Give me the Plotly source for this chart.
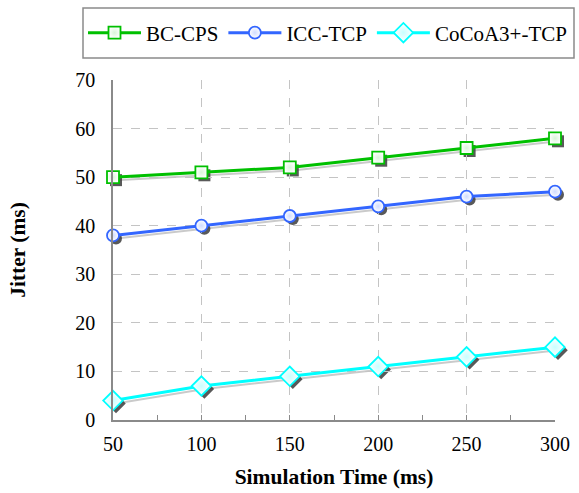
import plotly.graph_objects as go

time_ms = [50, 100, 150, 200, 250, 300]
bc_cps = [50, 51, 52, 54, 56, 58]
icc_tcp = [38, 40, 42, 44, 46, 47]
cocoa = [4, 7, 9, 11, 13, 15]

series = [
    ("BC-CPS", bc_cps, "#00C000", "square", 12, "#d8f5d8"),
    ("ICC-TCP", icc_tcp, "#3366FF", "circle", 12, "#d0dcff"),
    ("CoCoA3+-TCP", cocoa, "#00FFFF", "diamond", 15, "#c8ffff"),
]

FONT = "Liberation Serif"
W, H = 579, 493
ml, mr, mt, mb = 113, 21, 80, 70
pw = W - ml - mr
ph = H - mt - mb
dx = 3.0 / pw
dy = 3.0 / ph

fig = go.Figure()

# shadow traces (subplot xy, offset right/down)
for name, vals, col, sym, sz, grad in series:
    fig.add_trace(go.Scatter(
        x=time_ms, y=vals, mode="lines+markers", showlegend=False, hoverinfo="skip",
        line=dict(color="rgba(80,80,80,0.3)", width=2),
        marker=dict(symbol=sym, size=sz, color="rgba(60,60,60,0.85)",
                    line=dict(width=0)),
        cliponaxis=False, xaxis="x", yaxis="y"))

# main traces
for name, vals, col, sym, sz, grad in series:
    fig.add_trace(go.Scatter(
        x=time_ms, y=vals, mode="lines+markers", name=name,
        line=dict(color=col, width=3),
        marker=dict(symbol=sym, size=sz, color="white",
                    gradient=dict(type="radial", color=grad),
                    line=dict(color=col, width=1.8)),
        cliponaxis=False, xaxis="x2", yaxis="y2"))

axcol = "#8a8a8a"
gridcol = "#C4C4C4"

fig.update_layout(
    width=W, height=H,
    margin=dict(l=ml, r=mr, t=mt, b=mb, autoexpand=False),
    paper_bgcolor="white", plot_bgcolor="rgba(0,0,0,0)",
    font=dict(family=FONT, size=20, color="black"),
    xaxis=dict(domain=[dx, 1], range=[50, 300], visible=False, fixedrange=True),
    yaxis=dict(domain=[0, 1 - dy], range=[0, 70], visible=False, fixedrange=True),
    xaxis2=dict(domain=[0, 1 - dx], range=[50, 300], anchor="y2", automargin=False,
                tickmode="array", tickvals=time_ms, ticktext=[str(t) for t in time_ms],
                ticks="inside", ticklen=5, tickcolor=axcol, ticklabelstandoff=5,
                minor=dict(ticks="inside", ticklen=5, tickcolor=axcol, dtick=25, tick0=25, showgrid=False),
                showline=True, linecolor=axcol, linewidth=1.5,
                showgrid=True, gridcolor=gridcol, griddash="dash", gridwidth=1.2,
                zeroline=False,
                tickfont=dict(family=FONT, size=20),
                title=dict(text="<b>Simulation Time (ms)</b>", font=dict(family=FONT, size=21.5), standoff=15)),
    yaxis2=dict(domain=[dy, 1], range=[0, 70], anchor="x2", dtick=10, automargin=False,
                ticks="", ticklabelstandoff=12, showline=True, linecolor=axcol, linewidth=1.5,
                showgrid=True, gridcolor=gridcol, griddash="dash", gridwidth=1.2,
                zeroline=False,
                tickfont=dict(family=FONT, size=20),
                title=dict(text="<b>Jitter (ms)</b>", font=dict(family=FONT, size=21.5), standoff=44)),
    legend=dict(orientation="h", x=(83 - ml) / pw, xanchor="left",
                y=1 + (mt - 33) / ph, yanchor="middle",
                borderwidth=0, bgcolor="rgba(0,0,0,0)",
                font=dict(family=FONT, size=21),
                itemwidth=53),
    shapes=[dict(type="rect", xref="paper", yref="paper",
                 x0=(83 - ml) / pw, x1=(574 - ml) / pw,
                 y0=1 + (mt - 58) / ph, y1=1 + (mt - 8) / ph,
                 line=dict(color="#8a8a8a", width=1.5), fillcolor="rgba(0,0,0,0)", layer="above")],
    showlegend=True,
)

fig.write_html("out.html")
